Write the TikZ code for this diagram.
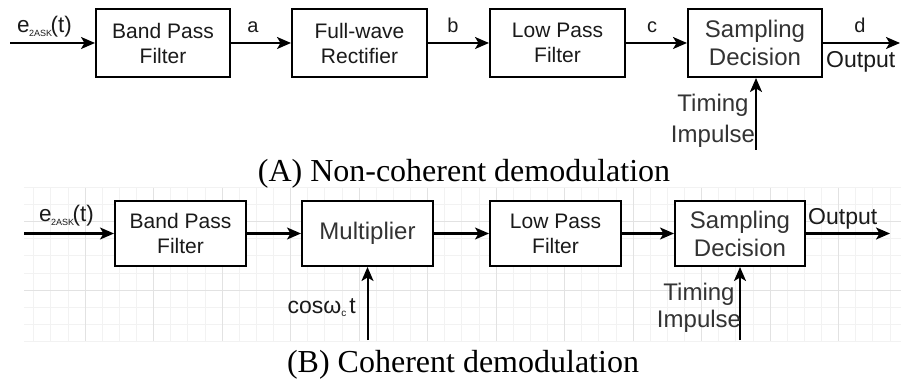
\documentclass[tikz,border=0pt]{standalone}
\usepackage{fontspec}
\setmainfont{Liberation Sans}
\newfontfamily\capfont{Liberation Serif}
\usetikzlibrary{arrows.meta}
\definecolor{txt}{HTML}{1A1A1A}
\definecolor{txtg}{HTML}{333333}
\definecolor{gminor}{HTML}{F2F2F2}
\definecolor{gmajor}{HTML}{E2E2E2}
\begin{document}
\begin{tikzpicture}[x=1pt,y=-1pt,
  blk/.style={draw=black, line width=2pt, fill=white, align=center, inner sep=0pt, text=txt,
    font=\fontsize{21}{25}\selectfont},
  bigblk/.style={blk, text=txtg, font=\fontsize{24}{28}\selectfont},
  wire/.style={line width=2pt, draw=black, -{Stealth[length=14pt,width=12pt,inset=3.5pt]}},
  lbl/.style={inner sep=0pt, text=txt, font=\fontsize{20}{24}\selectfont, anchor=base},
  glbl/.style={inner sep=0pt, text=txtg, font=\fontsize{24}{28}\selectfont, anchor=base},
  caption/.style={inner sep=0pt, text=black, font=\capfont\fontsize{32}{36}\selectfont, anchor=base},
]
\useasboundingbox (0,0) rectangle (901,379);
% faint grid behind the coherent demodulator
\begin{scope}
  \clip (24,188) rectangle (901,341);
  \foreach \i in {-28,...,24} { \draw[gminor, line width=0.7pt] ({496+17.125*\i},188) -- ++(0,153); }
  \foreach \j in {-6,...,3} { \draw[gminor, line width=0.7pt] (24,{290+17.125*\j}) -- ++(877,0); }
  \foreach \i in {-7,...,6} { \draw[gmajor, line width=0.8pt] ({496+68.5*\i},188) -- ++(0,153); }
  \foreach \j in {-1,0} { \draw[gmajor, line width=0.8pt] (24,{290+68.5*\j}) -- ++(877,0); }
\end{scope}

% ---------- (A) non-coherent ----------
\node[blk, minimum width=134pt, minimum height=68pt] (bpf1) at (163,43) {Band Pass\\Filter};
\node[blk, minimum width=135pt, minimum height=68pt] (fwr) at (359.5,43) {Full-wave\\Rectifier};
\node[blk, minimum width=135pt, minimum height=68pt] (lpf1) at (557.5,43) {Low Pass\\Filter};
\node[bigblk, minimum width=134pt, minimum height=68pt] (sd1) at (755,43) {Sampling\\Decision};
\coordinate (in1) at (10,43);
\coordinate (out1) at (900,43);
\coordinate (tim1) at (756,150);
\draw[wire] (in1) -- (bpf1);
\draw[wire] (bpf1) -- (fwr);
\draw[wire] (fwr) -- (lpf1);
\draw[wire] (lpf1) -- (sd1);
\draw[wire] (sd1) -- (out1);
\draw[wire] (tim1) -- (tim1 |- sd1.south);

\node[lbl, anchor=base west, font=\fontsize{22.5}{24}\selectfont] (ein1) at (17,33)
  {e\kern-0.5pt\raisebox{-4pt}{\fontsize{9}{9}\selectfont 2ASK}\kern-1.5pt(t)};
\node[lbl] (la) at (253,33) {a};
\node[lbl] (lb) at (453,33) {b};
\node[lbl] (lc) at (652,33) {c};
\node[lbl] (ld) at (860,33) {d};
\node[lbl, anchor=base west, font=\fontsize{23}{26}\selectfont] (outl1) at (826,68) {Output};
\node[glbl] (timA) at (713,112) {Timing};
\node[glbl] (impA) at (713,143) {Impulse};
\node[caption] (capA) at (464,182) {(A) Non-coherent demodulation};

% ---------- (B) coherent ----------
\node[blk, minimum width=131pt, minimum height=65pt] (bpf2) at (180.5,233.5) {Band Pass\\Filter};
\node[bigblk, minimum width=131pt, minimum height=65pt] (mul) at (367.5,233.5) {Multiplier};
\node[blk, minimum width=131pt, minimum height=65pt] (lpf2) at (555.5,233.5) {Low Pass\\Filter};
\node[bigblk, minimum width=130pt, minimum height=65pt] (sd2) at (740,233.5) {Sampling\\Decision};
\coordinate (in2) at (24,233.5);
\coordinate (out2) at (890,233.5);
\coordinate (cosb) at (367.5,340);
\coordinate (tim2) at (740,340);
\draw[wire] (in2) -- (bpf2);
\draw[wire] (bpf2) -- (mul);
\draw[wire] (mul) -- (lpf2);
\draw[wire] (lpf2) -- (sd2);
\draw[wire] (sd2) -- (out2);
\draw[wire] (cosb) -- (mul);
\draw[wire] (tim2) -- (sd2);

\node[lbl, anchor=base west, font=\fontsize{22.5}{24}\selectfont] (ein2) at (39,222)
  {e\kern-0.5pt\raisebox{-4pt}{\fontsize{9}{9}\selectfont 2ASK}\kern-1.5pt(t)};
\node[lbl, anchor=base west, font=\fontsize{23}{26}\selectfont] (outl2) at (808,225) {Output};
\node[lbl, anchor=base east, font=\fontsize{23}{26}\selectfont] (cosl) at (356,313)
  {cosω\raisebox{-3pt}{\fontsize{10}{10}\selectfont c}\kern3pt t};
\node[glbl] (timB) at (699,300) {Timing};
\node[glbl] (impB) at (699,327) {Impulse};
\node[caption] (capB) at (463,372) {(B) Coherent demodulation};
\end{tikzpicture}
\end{document}
